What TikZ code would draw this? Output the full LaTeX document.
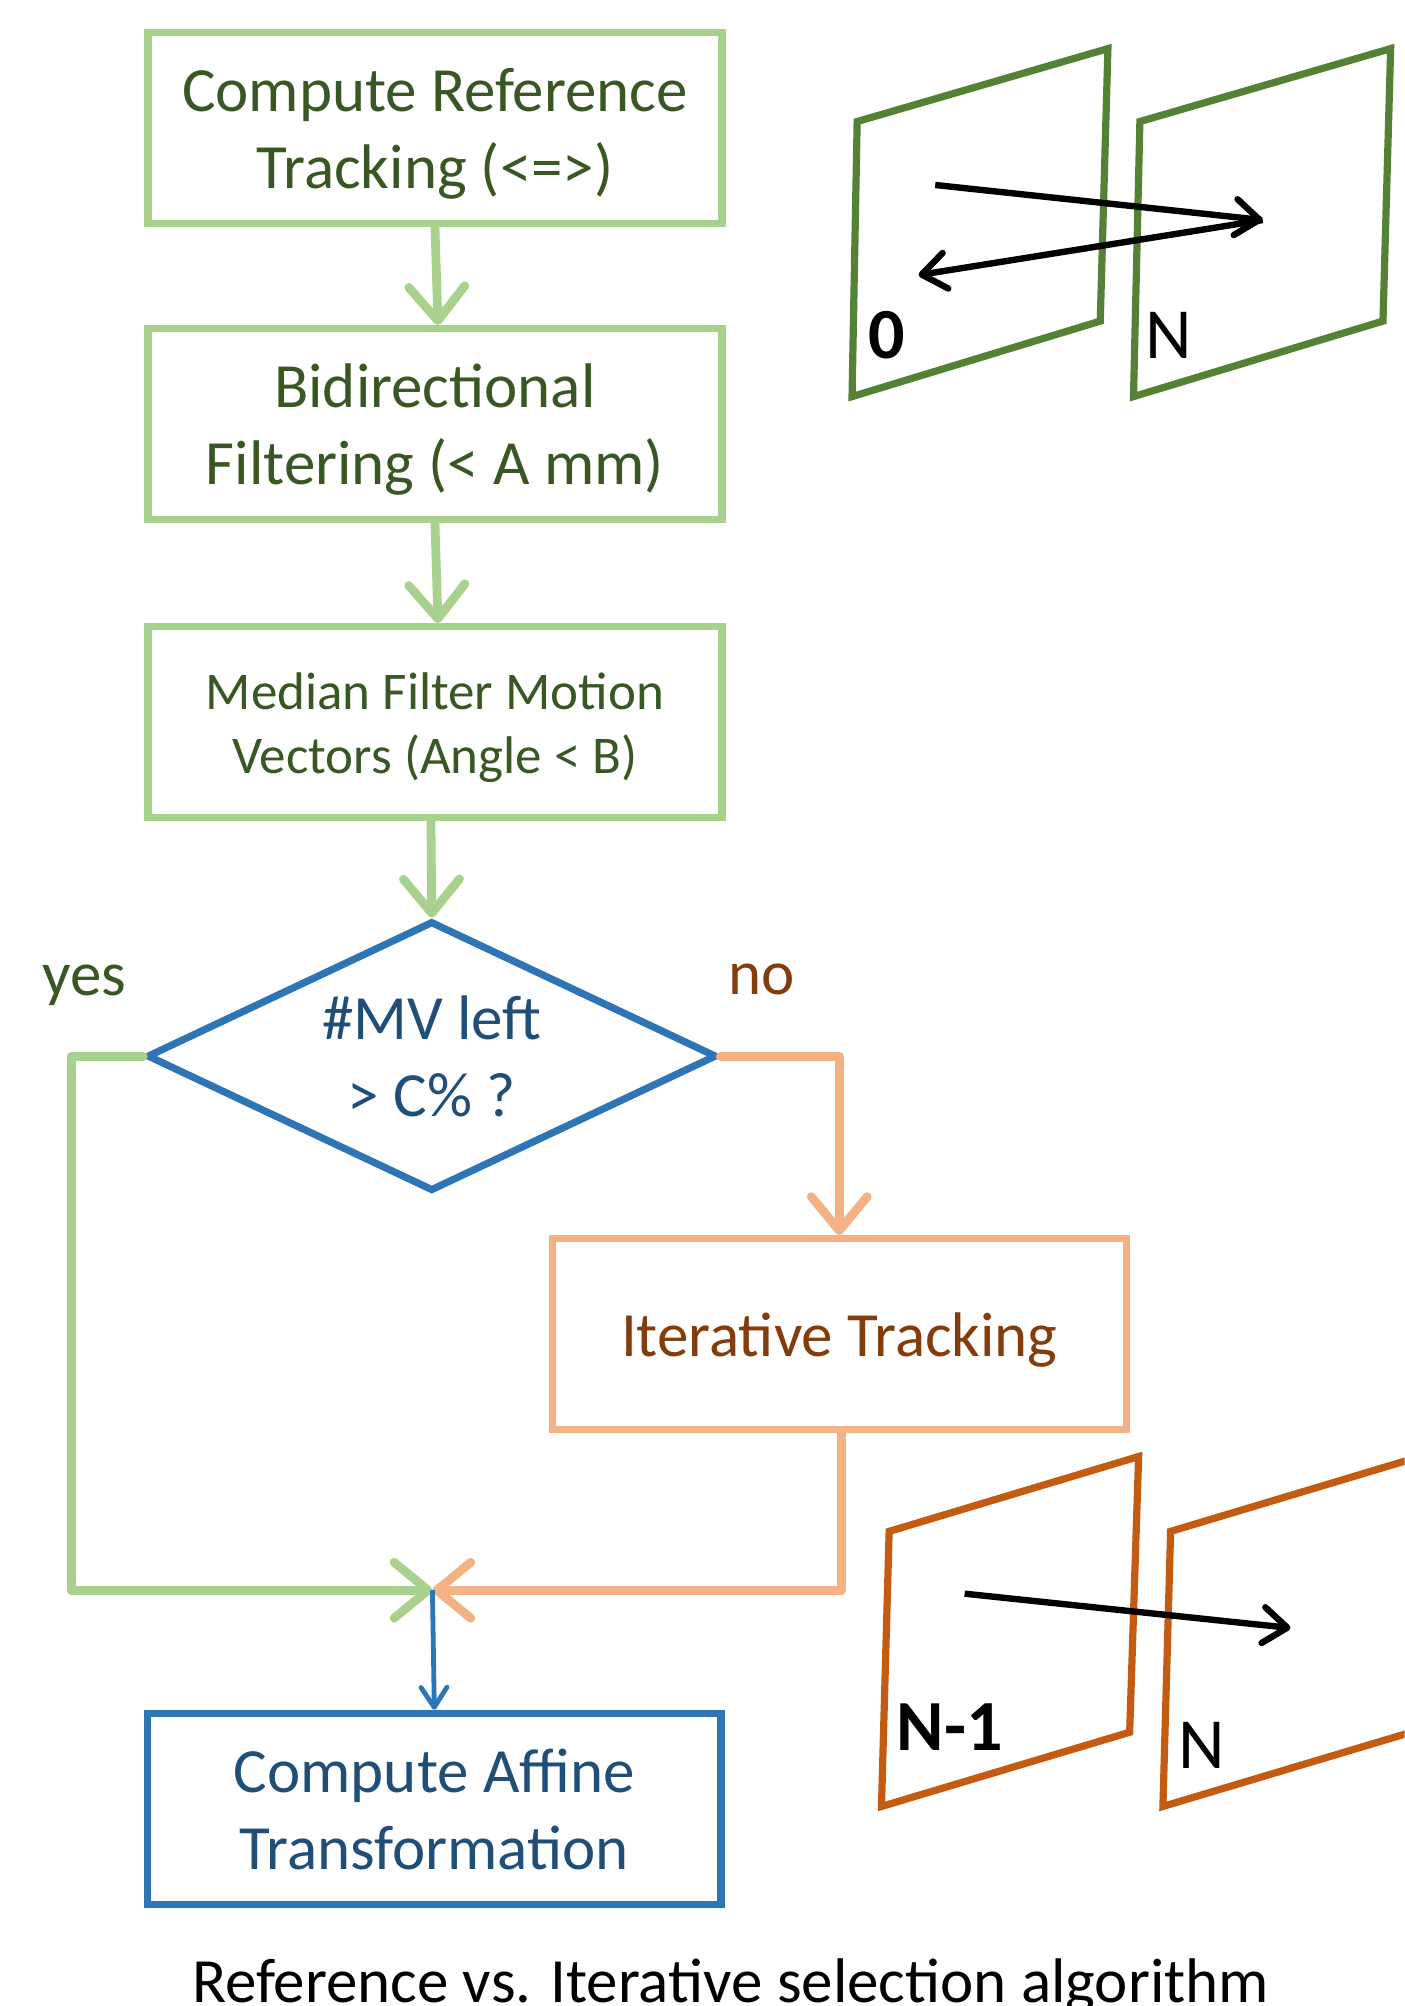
\documentclass[tikz,border=0pt]{standalone}
\usepackage{fontspec}
\setmainfont{Carlito}
\usetikzlibrary{arrows.meta,shapes.geometric}

\definecolor{boxgreen}{HTML}{A9D18E}
\definecolor{txtgreen}{HTML}{385723}
\definecolor{boxblue}{HTML}{2E75B6}
\definecolor{txtblue}{HTML}{1F4E79}
\definecolor{boxorange}{HTML}{F4B183}
\definecolor{txtorange}{HTML}{843C0C}
\definecolor{framegreen}{HTML}{548235}
\definecolor{frameorange}{HTML}{C55A11}

% centred stack of lines, set a little below the box centre
\newcommand\stackedtext[1]{\raisebox{-3.3pt}[\height][\depth]{\begin{tabular}{@{}c@{}}#1\end{tabular}}}

\tikzset{
  bigfont/.style={font=\fontsize{31.5}{38.5}\selectfont},
  flowbox/.style={draw, line width=3.6pt, minimum width=287pt, minimum height=95.5pt,
                  inner sep=0pt, align=center, bigfont},
  greenbox/.style={flowbox, draw=boxgreen, text=txtgreen},
  orangebox/.style={flowbox, draw=boxorange, text=txtorange},
  bluebox/.style={flowbox, draw=boxblue, line width=3.8pt, text=txtblue},
  decision/.style={diamond, draw=boxblue, line width=3.6pt, shape aspect=2.1,
                   minimum width=285pt, minimum height=135pt, inner sep=0pt,
                   align=center, text=txtblue, bigfont},
  bigtip/.style={-{Straight Barb[length=17pt,width=28pt,round]}, line width=4.4pt,
                 line cap=round, line join=miter},
  greenflow/.style={bigtip, draw=boxgreen},
  orangeflow/.style={bigtip, draw=boxorange},
  blueflow/.style={-{Straight Barb[length=10pt,width=13pt,round]}, draw=boxblue,
                   line width=2.4pt},
  frameline/.style={line width=3.6pt, line join=miter},
  motion/.style={-{Straight Barb[length=12pt,width=18pt,round]}, line width=3.2pt,
                 line cap=butt, black},
  framelabel/.style={anchor=base, inner sep=0pt, font=\fontsize{36}{40}\selectfont},
  branchlabel/.style={anchor=base, inner sep=0pt, bigfont}
}

\begin{document}
\begin{tikzpicture}[x=0.6398pt, y=-0.6398pt]
\useasboundingbox (0,0) rectangle (1098,1568);
\clip (0,0) rectangle (1098,1568);

% flow chart
\node[greenbox] (ref) at (340,100) {\stackedtext{Compute Reference\\Tracking (<=>)}};
\node[greenbox] (bidir) at (340,331.5) {\stackedtext{Bidirectional\\Filtering (< A mm)}};
\node[greenbox, font=\fontsize{26.5}{32}\selectfont] (median) at (340,564.5)
  {\stackedtext{Median Filter Motion\\Vectors (Angle < B)}};
\node[decision] (dec) at (337.5,825.5) {\#MV left\\> C\% ?};
\node[orangebox] (iter) at (656,1042.8) {\stackedtext{Iterative Tracking}};
\node[bluebox] (affine) at (339.5,1414) {\stackedtext{Compute Affine\\Transformation}};

\coordinate (merge) at (338,1243);
\coordinate (yesturn) at (55.6,1243);

\draw[greenflow] (ref.south) -- ([xshift=1.5pt]bidir.north);
\draw[greenflow] (bidir.south) -- ([xshift=1.5pt]median.north);
\draw[greenflow] ([xshift=-2pt]median.south) -- (dec.north);
\draw[greenflow, line join=round] (dec.west) -| (yesturn) -- (merge);
\draw[orangeflow, line join=round] (dec.east) -| (iter.north);
\draw[orangeflow, line join=round] ([xshift=1pt]iter.south) |- (merge);
\draw[blueflow] (merge) -- (affine.north);

\node[branchlabel, text=txtgreen] (yes) at (66,778) {yes};
\node[branchlabel, text=txtorange] (no) at (595,777) {no};

% reference tracking: frame 0 and frame N
\draw[frameline, framegreen] (670,95) -- (866,38) -- (860,251) -- (666,310) -- cycle;
\draw[frameline, framegreen] (891,95) -- (1087,38) -- (1081,251) -- (886,310) -- cycle;
\coordinate (fwdstart) at (731,144.6);
\coordinate (fwdend) at (987,172);
\coordinate (bwdend) at (718,215);
\draw[motion] (fwdstart) -- (fwdend);
\draw[motion] (fwdend) -- (bwdend);
\node[framelabel, font=\fontsize{36}{40}\selectfont\bfseries] (lzero) at (693,280) {0};
\node[framelabel] (ln) at (913.5,280) {N};

% iterative tracking: frame N-1 and frame N
\draw[frameline, frameorange] (695,1197) -- (890,1138.5) -- (883,1354) -- (689,1412) -- cycle;
\draw[frameline, frameorange] (915,1197) -- (1110,1138.5) -- (1103,1354) -- (909,1412) -- cycle;
\coordinate (itstart) at (754,1245.7);
\coordinate (itend) at (1008.7,1272.5);
\draw[motion] (itstart) -- (itend);
\node[framelabel, font=\fontsize{36}{40}\selectfont\bfseries] (lnm) at (742.5,1368) {N-1};
\node[framelabel] (ln2) at (939,1382) {N};

% caption
\node[anchor=base, inner sep=0pt, bigfont] (caption) at (571,1565)
  {Reference vs. Iterative selection algorithm};
\end{tikzpicture}
\end{document}
